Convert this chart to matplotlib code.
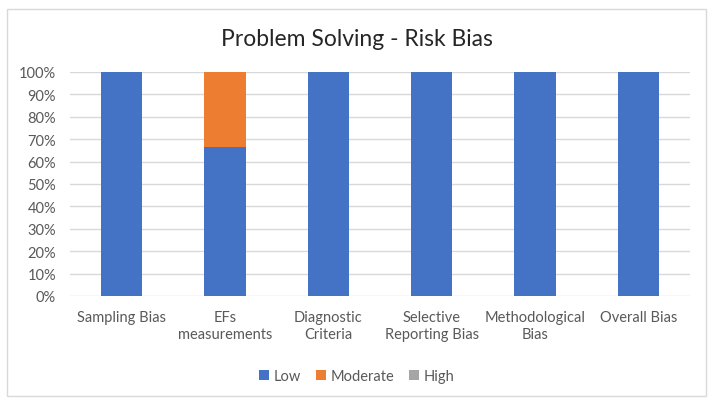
import matplotlib
matplotlib.use("Agg")
import matplotlib.pyplot as plt
from matplotlib.patches import Rectangle
from matplotlib.ticker import PercentFormatter

categories = ["Sampling Bias", "EFs\nmeasurements", "Diagnostic\nCriteria",
              "Selective\nReporting Bias", "Methodological\nBias", "Overall Bias"]
low = [100, 66.7, 100, 100, 100, 100]
moderate = [0, 33.3, 0, 0, 0, 0]
high = [0, 0, 0, 0, 0, 0]

plt.rcParams['font.family'] = ['Lato', 'DejaVu Sans']
txt = '#595959'

fig = plt.figure(figsize=(7.13, 4.06), dpi=100)
fig.patches.append(Rectangle((7/713, 1-397/406), 699/713, 387/406, transform=fig.transFigure,
                             fill=False, edgecolor='#d9d9d9', linewidth=1))
ax = fig.add_axes([70/713, 1-297/406, 620/713, 224/406])
x = range(len(categories))
w = 0.4
ax.bar(x, low, w, color='#4472c4', label='Low', zorder=3)
ax.bar(x, moderate, w, bottom=low, color='#ed7d31', label='Moderate', zorder=3)
b3 = [l + m for l, m in zip(low, moderate)]
ax.bar(x, high, w, bottom=b3, color='#a5a5a5', label='High', zorder=3)

ax.set_ylim(0, 100)
ax.set_xlim(-0.5, len(categories) - 0.5)
ax.set_yticks(range(0, 101, 10))
ax.yaxis.set_major_formatter(PercentFormatter(decimals=0))
ax.grid(axis='y', color='#d9d9d9', linewidth=1, zorder=0)
for s in ax.spines.values():
    s.set_visible(False)
ax.tick_params(length=0, labelsize=10.5, colors=txt)
ax.tick_params(axis='y', pad=10)
ax.set_xticks(list(x))
ax.set_xticklabels(categories, linespacing=1.3)
ax.tick_params(axis='x', pad=10)

fig.text(0.5, 1-40/406, "Problem Solving - Risk Bias", ha='center', va='center',
         fontsize=16.5, color='#262626')
fig.legend(loc='center', bbox_to_anchor=(0.5, 1-377/406), ncol=3, frameon=False,
           fontsize=10.5, handlelength=0.7, handleheight=0.7, handletextpad=0.3,
           columnspacing=1.0, labelcolor=txt)

fig.savefig("out.png", dpi=100)
